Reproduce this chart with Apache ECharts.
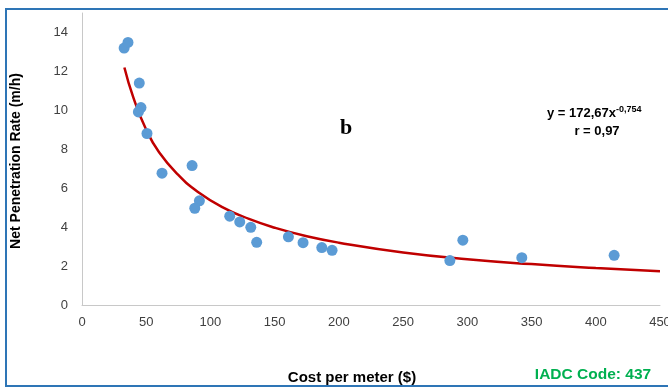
<!DOCTYPE html>
<html>
<head>
<meta charset="utf-8">
<script src="https://cdn.jsdelivr.net/npm/echarts@6/dist/echarts.min.js"></script>
<style>html,body{margin:0;padding:0;background:#fff;}#c{width:668px;height:389px;}</style>
</head>
<body>
<div id="c"></div>
<script>
// Observed data points: cost per meter ($) vs net penetration rate (m/h)
const costPerMeter = [32.8, 35.8, 44.6, 45.9, 43.9, 50.6, 62.3, 85.7, 91.4, 87.8, 115, 122.8, 131.4, 136, 160.7, 172.1, 186.7, 194.7, 286.4, 296.5, 342.4, 414.3];
const penetrationRate = [13.2, 13.49, 11.4, 10.14, 9.92, 8.81, 6.77, 7.16, 5.35, 4.97, 4.56, 4.27, 3.99, 3.22, 3.5, 3.2, 2.95, 2.81, 2.28, 3.33, 2.43, 2.55];
// Trend curve
const trendX = [33, 40, 50, 60, 75, 90, 110, 130, 150, 175, 200, 250, 300, 350, 400, 450];
const trendY = [12.2, 10.65, 9.0, 7.85, 6.68, 5.82, 5.0, 4.42, 3.97, 3.53, 3.2, 2.7, 2.35, 2.1, 1.9, 1.73];
const yTicks = [0, 2, 4, 6, 8, 10, 12, 14];

const chart = echarts.init(document.getElementById('c'));
const font = '"Liberation Sans", Arial, sans-serif';
chart.setOption({
  animation: false,
  backgroundColor: '#fff',
  grid: {left: 82, top: 13, right: 8, bottom: 84, containLabel: false, outerBoundsMode: 'none'},
  xAxis: {
    type: 'value', min: 0, max: 450, interval: 50,
    axisLine: {show: true, lineStyle: {color: '#c8c8c8', width: 1}},
    axisTick: {show: false},
    splitLine: {show: false},
    axisLabel: {color: '#404040', fontSize: 13, fontFamily: font, margin: 11, showMaxLabel: true, hideOverlap: false}
  },
  yAxis: {
    type: 'value', min: 0, max: 15, interval: 2,
    axisLine: {show: true, lineStyle: {color: '#c8c8c8', width: 1}},
    axisTick: {show: false},
    splitLine: {show: false},
    axisLabel: {color: '#404040', fontSize: 13, fontFamily: font, margin: 14,
      formatter: v => yTicks.includes(v) ? String(v) : ''}
  },
  series: [
    {
      type: 'line', smooth: true, symbol: 'none',
      data: trendX.map((x, i) => [x, trendY[i]]),
      lineStyle: {color: '#C00000', width: 2.5},
      z: 2
    },
    {
      type: 'scatter', symbolSize: 11,
      data: costPerMeter.map((x, i) => [x, penetrationRate[i]]),
      itemStyle: {color: '#5B9BD5', opacity: 1},
      z: 3
    }
  ],
  graphic: [
    {type: 'rect', shape: {x: 6, y: 9, width: 700, height: 377},
     style: {fill: 'none', stroke: '#2E75B6', lineWidth: 2}, silent: true},
    {type: 'text', x: 16, y: 161, rotation: Math.PI / 2,
     style: {text: 'Net Penetration Rate (m/h)', font: 'bold 14px ' + font, fill: '#000', align: 'center', verticalAlign: 'middle'}},
    {type: 'text', x: 352, y: 378,
     style: {text: 'Cost per meter ($)', font: 'bold 15px ' + font, fill: '#000', align: 'center', verticalAlign: 'middle'}},
    {type: 'text', x: 593, y: 375,
     style: {text: 'IADC Code: 437', font: 'bold 15.5px ' + font, fill: '#00B050', align: 'center', verticalAlign: 'middle'}},
    {type: 'text', x: 346, y: 128,
     style: {text: 'b', font: 'bold 22px "Liberation Serif", "Times New Roman", serif', fill: '#000', align: 'center', verticalAlign: 'middle'}},
    {type: 'text', x: 547, y: 113,
     style: {
       text: '{a|y = 172,67x}{s|-0,754}',
       rich: {
         a: {font: 'bold 13px ' + font, fill: '#000'},
         s: {font: 'bold 9px ' + font, fill: '#000', verticalAlign: 'top', padding: [0, 0, 7, 0]}
       },
       verticalAlign: 'middle'
     }},
    {type: 'text', x: 597, y: 131,
     style: {text: 'r = 0,97', font: 'bold 13px ' + font, fill: '#000', align: 'center', verticalAlign: 'middle'}}
  ]
});
</script>
</body>
</html>
